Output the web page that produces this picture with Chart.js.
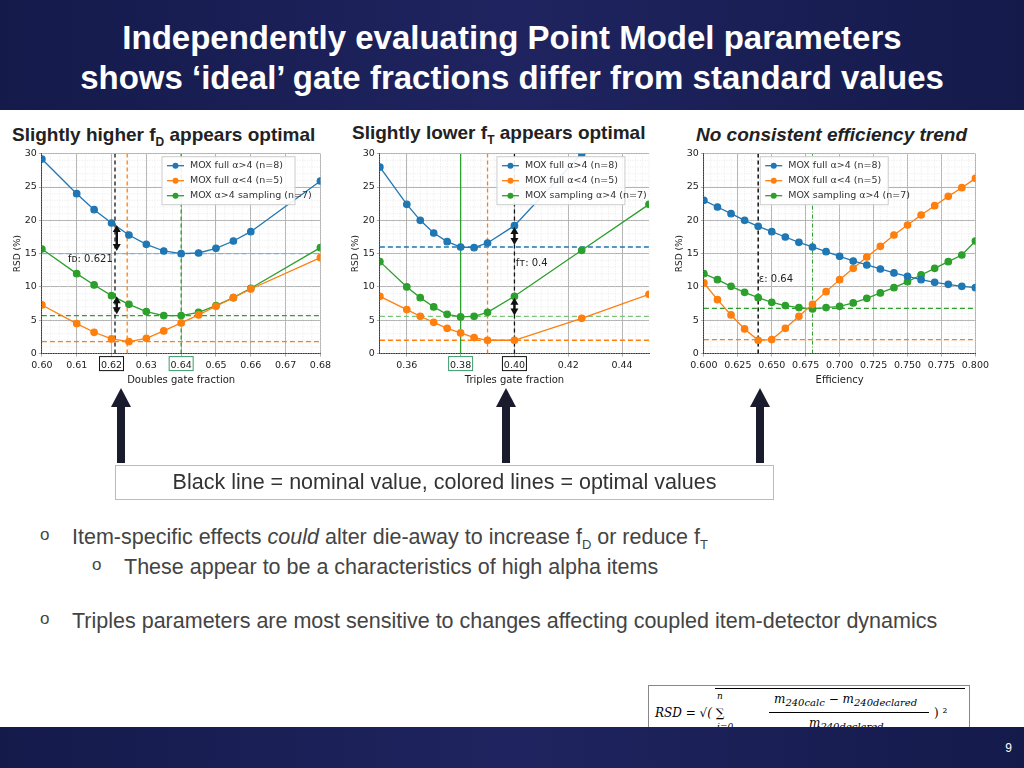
<!DOCTYPE html>
<html><head><meta charset="utf-8">
<script src="https://cdn.jsdelivr.net/npm/chart.js@4.4.1/dist/chart.umd.min.js"></script>
<style>
body{margin:0;width:1024px;height:768px;position:relative;overflow:hidden;background:#fff;font-family:"Liberation Sans",Arial,sans-serif}
#hdr{position:absolute;left:0;top:0;width:1024px;height:110px;background:linear-gradient(90deg,#141a4a,#1f2460 50%,#141a4a);color:#fff;font-weight:bold;font-size:33px;text-align:center;line-height:40px;padding-top:18px;box-sizing:border-box}
#ftr{position:absolute;left:0;top:727px;width:1024px;height:41px;background:linear-gradient(90deg,#141a4a,#1f2460 50%,#141a4a);color:#fff;font-size:12px}
.sub{position:absolute;font-weight:bold;font-size:19px;color:#222;white-space:nowrap}
canvas{position:absolute}
.cv{position:absolute}
#note{position:absolute;left:115px;top:465px;width:657px;height:33px;border:1px solid #bbb;font-size:21.5px;color:#333;text-align:center;line-height:33px}
.b{position:absolute;font-size:21.5px;color:#444;white-space:nowrap}
.b span.o{position:absolute;left:-32px;font-size:17px;top:0px}
</style></head><body>
<div id="hdr">Independently evaluating Point Model parameters<br>shows ‘ideal’ gate fractions differ from standard values</div>
<div class="sub" style="left:12px;top:124px">Slightly higher f<sub style="font-size:12px">D</sub> appears optimal</div>
<div class="sub" style="left:352px;top:122px">Slightly lower f<sub style="font-size:12px">T</sub> appears optimal</div>
<div class="sub" style="left:696px;top:124px;font-style:italic">No consistent efficiency trend</div>
<div class="cv" style="left:12px;top:146px;width:322px;height:240px"><canvas id="c1"></canvas></div>
<div class="cv" style="left:350px;top:146px;width:305px;height:240px"><canvas id="c2"></canvas></div>
<div class="cv" style="left:674px;top:146px;width:318px;height:240px"><canvas id="c3"></canvas></div>
<svg style="position:absolute;left:0;top:380px" width="1024" height="90">
<g fill="#1b1b2e" stroke="none">
<rect x="117" y="25" width="8" height="58"/><polygon points="111,27 121,8 131,27"/>
<rect x="502" y="25" width="8" height="58"/><polygon points="496,27 506,8 516,27"/>
<rect x="756" y="25" width="8" height="58"/><polygon points="750,27 760,8 770,27"/>
</g></svg>
<div id="note">Black line = nominal value, colored lines = optimal values</div>
<div class="b" style="left:72px;top:525px"><span class="o">o</span>Item-specific effects <i>could</i> alter die-away to increase f<sub style="font-size:13px">D</sub> or reduce f<sub style="font-size:13px">T</sub></div>
<div class="b" style="left:124px;top:555px"><span class="o">o</span>These appear to be a characteristics of high alpha items</div>
<div class="b" style="left:72px;top:609px"><span class="o">o</span>Triples parameters are most sensitive to changes affecting coupled item-detector dynamics</div>
<div style="position:absolute;left:648px;top:685px;width:320px;height:65px;border:1px solid #888;font-family:'DejaVu Serif',serif;font-size:12px;color:#000">
<div style="position:absolute;left:6px;top:20px;font-style:italic">RSD = √( ∑</div>
<div style="position:absolute;left:68px;top:5px;font-size:9px;font-style:italic">n</div>
<div style="position:absolute;left:68px;top:36px;font-size:9px;font-style:italic">i=0</div>
<div style="position:absolute;left:66px;top:2px;width:250px;border-top:1px solid #000"></div>
<div style="position:absolute;left:125px;top:6px;font-style:italic">m<sub>240calc</sub> − m<sub>240declared</sub></div>
<div style="position:absolute;left:120px;top:26px;width:160px;border-top:1px solid #000"></div>
<div style="position:absolute;left:160px;top:30px;font-style:italic">m<sub>240declared</sub></div>
<div style="position:absolute;left:285px;top:20px">) ²</div>
</div>
<div id="ftr"><span style="position:absolute;right:12px;top:14px">9</span></div>
<script>
const BLUE='#1f77b4',ORANGE='#ff7f0e',GREEN='#2ca02c';
const seriesNames=['MOX full α>4 (n=8)','MOX full α<4 (n=5)','MOX α>4 sampling (n=7)'];
const seriesNames2=['MOX full α>4 (n=8)','MOX full α<4 (n=5)','MOX sampling α>4 (n=7)'];
// Chart 1: doubles gate fraction
const xD=[0.600,0.610,0.615,0.620,0.625,0.630,0.635,0.640,0.645,0.650,0.655,0.660,0.680];
const dBlue=[29.2,24.0,21.6,19.6,17.8,16.4,15.4,15.0,15.1,15.8,16.9,18.3,25.9];
const dOrange=[7.3,4.5,3.2,2.2,1.8,2.3,3.4,4.6,5.8,7.1,8.4,9.7,14.4];
const dGreen=[15.7,12.0,10.3,8.7,7.4,6.3,5.7,5.7,6.2,7.2,8.4,9.8,15.9];
const dV={nominal:0.621,orange:0.6245,green:0.640};
const dH={blue:15.0,green:5.7,orange:1.8};
const dTicks=[0.60,0.61,0.62,0.63,0.64,0.65,0.66,0.67,0.68];
// Chart 2: triples gate fraction
const xT=[0.350,0.360,0.365,0.370,0.375,0.380,0.385,0.390,0.400,0.425,0.450];
const tBlue=[28.0,22.4,20.0,18.1,16.8,16.0,15.9,16.6,19.2,30.0,null];
const tOrange=[8.6,6.6,5.6,4.7,3.8,3.1,2.4,2.0,2.0,5.3,8.9];
const tGreen=[13.8,10.0,8.4,7.0,5.9,5.5,5.6,6.2,8.6,15.5,22.4];
const tV={nominal:0.400,orange:0.390,green:0.380};
const tH={blue:16.0,green:5.6,orange:2.0};
const tTicks=[0.36,0.38,0.40,0.42,0.44];
// Chart 3: efficiency
const xE=[0.60,0.61,0.62,0.63,0.64,0.65,0.66,0.67,0.68,0.69,0.70,0.71,0.72,0.73,0.74,0.75,0.76,0.77,0.78,0.79,0.80];
const eBlue=[23,22,21,20,19.1,18.3,17.5,16.7,16.0,15.3,14.6,13.9,13.3,12.7,12.1,11.6,11.1,10.7,10.4,10.1,9.9];
const eOrange=[10.6,8.1,5.8,3.7,2.0,2.1,3.8,5.6,7.4,9.3,11.1,12.8,14.5,16.1,17.8,19.3,20.8,22.2,23.6,24.9,26.3];
const eGreen=[12,11.1,10.1,9.2,8.4,7.7,7.2,6.9,6.7,6.9,7.1,7.6,8.3,9.1,9.9,10.8,11.8,12.8,13.8,14.8,16.9];
const eV={nominal:0.64,green:0.68};
const eH={green:6.8,orange:2.1};

const pts=(xs,ys)=>xs.map((x,i)=>({x,y:ys[i]})).filter(p=>p.y!==null);
function ser(xs,ys,c,label){return {label,data:pts(xs,ys),borderColor:c,backgroundColor:c,showLine:true,borderWidth:1.3,pointRadius:3.2,pointHoverRadius:0,tension:0,order:1};}
function vl(x,c,dash,w){return {label:'_',data:[{x,y:0},{x,y:30}],borderColor:c,showLine:true,pointRadius:0,borderWidth:w||1.3,borderDash:dash,order:2};}
function hl(y,c,x0,x1){return {label:'_',data:[{x:x0,y},{x:x1,y}],borderColor:c,showLine:true,pointRadius:0,borderWidth:1.3,borderDash:[5,3],order:2};}

const extras={id:'extras',
beforeDatasetsDraw(ch,a,o){const {ctx,chartArea:ca,scales:{x,y}}=ch;ctx.save();
 ctx.strokeStyle='#ddd';ctx.lineWidth=0.6;ctx.setLineDash([1,1.5]);
 const xs=o.minorX,ys=1;
 for(let v=x.min;v<=x.max+1e-9;v+=xs){const p=x.getPixelForValue(v);ctx.beginPath();ctx.moveTo(p,ca.top);ctx.lineTo(p,ca.bottom);ctx.stroke();}
 for(let v=0;v<=30;v+=ys){const p=y.getPixelForValue(v);ctx.beginPath();ctx.moveTo(ca.left,p);ctx.lineTo(ca.right,p);ctx.stroke();}
 ctx.restore();},
afterDatasetsDraw(ch,a,o){const {ctx,chartArea:ca,scales:{x,y}}=ch;ctx.save();
 const lx=x.getPixelForValue(o.legX),ly=ca.top+3,lw=o.legW,lh=48;
 ctx.fillStyle='rgba(255,255,255,0.9)';ctx.strokeStyle='#ccc';ctx.lineWidth=1;ctx.setLineDash([]);
 ctx.fillRect(lx,ly,lw,lh);ctx.strokeRect(lx,ly,lw,lh);
 ctx.font='9.5px "DejaVu Sans"';ctx.textBaseline='middle';
 [BLUE,ORANGE,GREEN].forEach((c,i)=>{const yy=ly+9+i*15;ctx.strokeStyle=c;ctx.lineWidth=1.3;ctx.beginPath();ctx.moveTo(lx+5,yy);ctx.lineTo(lx+22,yy);ctx.stroke();
  ctx.fillStyle=c;ctx.beginPath();ctx.arc(lx+13.5,yy,3,0,7);ctx.fill();ctx.fillStyle='#333';ctx.fillText(o.names[i],lx+28,yy);});
 ctx.font='10px "DejaVu Sans"';ctx.fillStyle='#222';
 ctx.fillText(o.ann[0],x.getPixelForValue(o.ann[1]),y.getPixelForValue(o.ann[2]));
 (o.arrows||[]).forEach(([xv,y0,y1])=>{const px=x.getPixelForValue(xv),p0=y.getPixelForValue(y0),p1=y.getPixelForValue(y1);
  ctx.strokeStyle='#111';ctx.fillStyle='#111';ctx.lineWidth=2.5;ctx.beginPath();ctx.moveTo(px,p0+5);ctx.lineTo(px,p1-5);ctx.stroke();
  [[p0,1],[p1,-1]].forEach(([p,d])=>{ctx.beginPath();ctx.moveTo(px,p);ctx.lineTo(px-4,p+d*7);ctx.lineTo(px+4,p+d*7);ctx.fill();});});
 (o.boxes||[]).forEach(([v,c])=>{const px=x.getPixelForValue(v);ctx.strokeStyle=c;ctx.lineWidth=1;ctx.strokeRect(px-12,ca.bottom+3,24,14);});
 ctx.restore();}};

function mk(id,ds,xmin,xmax,ticks,xlabel,o,stepX,fmt){
 return new Chart(document.getElementById(id),{type:'scatter',data:{datasets:ds},plugins:[extras],
 options:{responsive:true,maintainAspectRatio:false,animation:false,events:[],
 layout:{padding:{right:6,top:2}},
 plugins:{legend:{display:false},tooltip:{enabled:false},extras:o},
 scales:{x:{type:'linear',min:xmin,max:xmax,
   afterBuildTicks:ticks?(s)=>{s.ticks=ticks.map(v=>({value:v}));}:undefined,
   ticks:{stepSize:stepX,color:'#222',font:{size:9.5,family:'DejaVu Sans'},maxRotation:0,padding:3,callback:fmt},
   grid:{color:'#999',lineWidth:0.8,tickLength:3},border:{color:'#333'},
   title:{display:true,text:xlabel,color:'#222',font:{size:10,family:'DejaVu Sans'},padding:0}},
  y:{min:0,max:30,ticks:{stepSize:5,color:'#222',font:{size:9.5,family:'DejaVu Sans'},padding:2},
   grid:{color:'#999',lineWidth:0.8,tickLength:3},border:{color:'#333'},
   title:{display:true,text:'RSD (%)',color:'#222',font:{size:9,family:'DejaVu Sans'},padding:0}}}}});}

mk('c1',[ser(xD,dBlue,BLUE),ser(xD,dOrange,ORANGE),ser(xD,dGreen,GREEN),
 vl(dV.nominal,'#111',[4,3]),vl(dV.orange,ORANGE,[4,3]),vl(dV.green,GREEN,[4,3]),
 hl(dH.blue,'#7fb0d9',0.6,0.68),hl(dH.green,GREEN,0.6,0.68),hl(dH.orange,ORANGE,0.6,0.68)],
 0.6,0.68,dTicks,'Doubles gate fraction',
 {minorX:0.0025,legX:0.6345,legW:133,names:seriesNames,ann:['f\u1d05: 0.621',0.6075,14.2],
  arrows:[[0.6215,19.3,15.4],[0.6215,8.6,5.9]],boxes:[[0.62,'#111'],[0.64,'#3a9a6a']]},0.01,v=>v.toFixed(2));
mk('c2',[ser(xT,tBlue,BLUE),ser(xT,tOrange,ORANGE),ser(xT,tGreen,GREEN),
 vl(tV.nominal,'#111',[4,3]),vl(tV.orange,ORANGE,[4,3]),vl(tV.green,GREEN,[]),
 hl(tH.blue,BLUE,0.35,0.45),hl(tH.green,'#7cc67c',0.35,0.45),hl(tH.orange,ORANGE,0.35,0.45)],
 0.35,0.45,tTicks,'Triples gate fraction',
 {minorX:0.0025,legX:0.3935,legW:128,names:seriesNames2,ann:['f\u1d1b: 0.4',0.4005,13.6],
  arrows:[[0.4,19.0,16.3],[0.4,8.4,5.7]],boxes:[[0.38,'#3a9a6a'],[0.40,'#111']]},0.02,v=>v.toFixed(2));
mk('c3',[ser(xE,eBlue,BLUE),ser(xE,eOrange,ORANGE),ser(xE,eGreen,GREEN),
 vl(eV.nominal,'#111',[4,3],1.5),vl(eV.green,GREEN,[4,2,1,2],1),
 hl(eH.green,GREEN,0.6,0.8),hl(eH.orange,ORANGE,0.6,0.8)],
 0.6,0.8,null,'Efficiency',
 {minorX:0.005,legX:0.6415,legW:128,names:seriesNames2,ann:['ε: 0.64',0.6405,11.1]},0.025,v=>v.toFixed(3));
</script>
</body></html>
